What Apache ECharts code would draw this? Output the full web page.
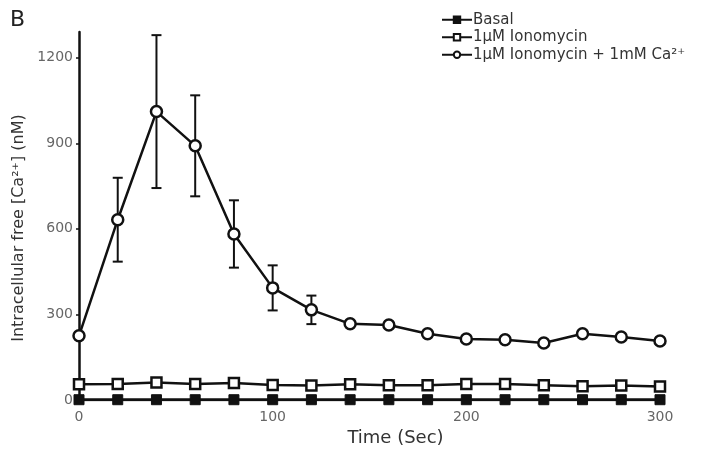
<!DOCTYPE html>
<html>
<head>
<meta charset="utf-8">
<script src="https://cdn.jsdelivr.net/npm/echarts@6/dist/echarts.min.js"></script>
<style>
  html, body { margin: 0; padding: 0; background: #fff; }
  #chart { width: 718px; height: 452px; }
</style>
</head>
<body>
<div id="chart"></div>
<script>
// Sampling times (s)
const timePoints = [0, 20, 40, 60, 80, 100, 120, 140, 160, 180, 200, 220, 240, 260, 280, 300];
// Intracellular free Ca2+ (nM)
const basal = [1, 1, 1, 1, 1, 1, 1, 1, 1, 1, 1, 1, 1, 1, 1, 1];
const ionomycin = [55, 56, 61, 56, 60, 53, 51, 55, 52, 52, 56, 56, 52, 48, 51, 47];
const ionomycinCa = [225, 632, 1011, 891, 582, 393, 316, 267, 263, 232, 214, 211, 200, 232, 221, 207];
// Standard error for the ionomycin + Ca2+ condition (null = bar hidden by marker)
const ionomycinCaErr = [null, 147, 268, 177, 118, 79, 50, null, null, null, null, null, null, null, null, null];
const yTicks = [0, 300, 600, 900, 1200];
const xTicks = [0, 100, 200, 300];

const seriesNames = ['Basal', '1\u00B5M Ionomycin', '1\u00B5M Ionomycin + 1mM Ca\u00B2\u207A'];

const pair = arr => timePoints.map((t, i) => [t, arr[i]]);
const errData = timePoints
  .map((t, i) => ionomycinCaErr[i] == null ? null : [t, ionomycinCa[i] - ionomycinCaErr[i], ionomycinCa[i] + ionomycinCaErr[i]])
  .filter(d => d);

const font = "'DejaVu Sans', sans-serif";
const chart = echarts.init(document.getElementById('chart'), null, { renderer: 'canvas' });

chart.setOption({
  backgroundColor: '#ffffff',
  animation: false,
  graphic: [{
    type: 'text', left: 10, top: 9,
    style: { text: 'B', font: '22px ' + font, fill: '#222' }
  }],
  legend: {
    orient: 'vertical',
    left: 436, top: 6,
    itemGap: 0,
    itemWidth: 30, itemHeight: 8,
    textStyle: { fontFamily: font, fontSize: 15, color: '#333', lineHeight: 17.5, padding: [0, 0, 0, -4] },
    data: seriesNames.map(n => ({ name: n }))
  },
  grid: { left: 79, right: 58, top: 32, bottom: 52 },
  xAxis: {
    type: 'value', min: 0, max: 300, interval: 100,
    name: 'Time (Sec)', nameLocation: 'middle', nameGap: 27,
    nameTextStyle: { fontFamily: font, fontSize: 18, color: '#333', padding: [0, 0, 0, 52] },
    axisLine: { show: true, lineStyle: { color: '#111', width: 2 } },
    axisTick: { show: false },
    splitLine: { show: false },
    axisLabel: {
      fontFamily: font, fontSize: 14, color: '#666', margin: 10,
      customValues: xTicks
    }
  },
  yAxis: {
    type: 'value', min: 0, max: 1290, interval: 300,
    name: 'Intracellular free [Ca\u00B2\u207A] (nM)', nameLocation: 'middle', nameGap: 52,
    nameTextStyle: { fontFamily: font, fontSize: 16, color: '#333', padding: [0, 24, 0, 0] },
    axisLine: { show: true, lineStyle: { color: '#111', width: 2.5 } },
    axisTick: { show: true, length: 3, lineStyle: { color: '#111', width: 1.5 } },
    splitLine: { show: false },
    axisLabel: {
      fontFamily: font, fontSize: 14, color: '#666', margin: 6,
      showMaxLabel: false,
      formatter: v => yTicks.includes(v) ? String(v) : ''
    }
  },
  series: [
    {
      name: seriesNames[0], type: 'line', data: pair(basal),
      symbol: 'rect', symbolSize: 10, z: 3,
      lineStyle: { color: '#111', width: 3 },
      itemStyle: { color: '#111', borderColor: '#111', borderWidth: 1 }
    },
    {
      name: seriesNames[1], type: 'line', data: pair(ionomycin),
      symbol: 'rect', symbolSize: 10, z: 3,
      lineStyle: { color: '#111', width: 2.5 },
      itemStyle: { color: '#fff', borderColor: '#111', borderWidth: 2.5 }
    },
    {
      name: 'err', type: 'custom', data: errData, z: 2,
      renderItem: (params, api) => {
        const x = api.value(0);
        const lo = api.coord([x, api.value(1)]);
        const hi = api.coord([x, api.value(2)]);
        const cap = 5;
        const st = { stroke: '#111', lineWidth: 2 };
        return {
          type: 'group',
          children: [
            { type: 'line', shape: { x1: lo[0], y1: lo[1], x2: hi[0], y2: hi[1] }, style: st },
            { type: 'line', shape: { x1: hi[0] - cap, y1: hi[1], x2: hi[0] + cap, y2: hi[1] }, style: st },
            { type: 'line', shape: { x1: lo[0] - cap, y1: lo[1], x2: lo[0] + cap, y2: lo[1] }, style: st }
          ]
        };
      }
    },
    {
      name: seriesNames[2], type: 'line', data: pair(ionomycinCa),
      symbol: 'circle', symbolSize: 11, z: 4,
      lineStyle: { color: '#111', width: 2.5 },
      itemStyle: { color: '#fff', borderColor: '#111', borderWidth: 2.5 }
    }
  ]
});
</script>
</body>
</html>
